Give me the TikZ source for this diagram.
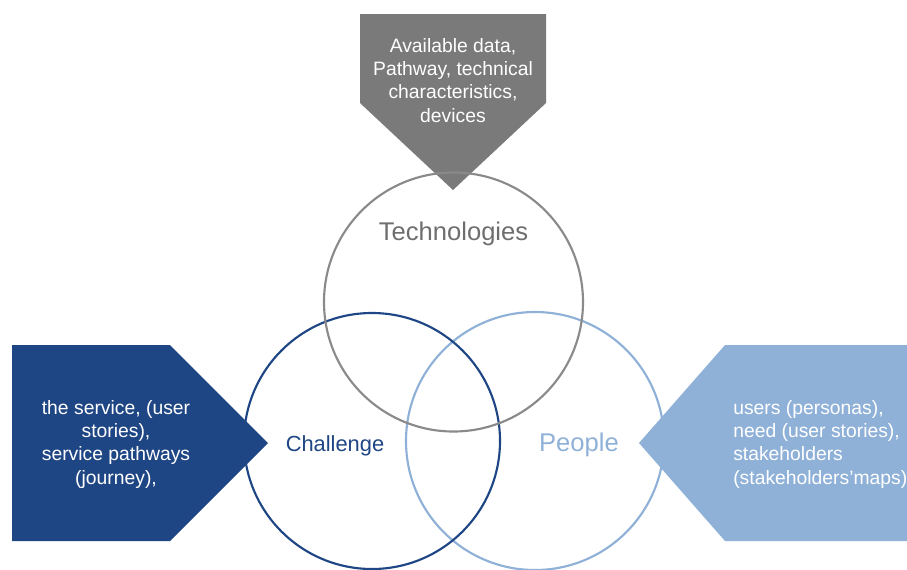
\documentclass[tikz,border=0pt]{standalone}
\usepackage{fontspec}
\setmainfont{Liberation Sans}
\definecolor{techgray}{HTML}{7A7A7A}
\definecolor{ringgray}{HTML}{8A8A8A}
\definecolor{navy}{HTML}{1F4684}
\definecolor{sky}{HTML}{8FB1D8}
\begin{document}
\begin{tikzpicture}[x=0.75pt,y=-0.75pt,
  ring/.style={line width=1.6pt},
  tagtext/.style={text=white,font=\fontsize{14.5}{17.3}\selectfont},
  ringlabel/.style={inner sep=0pt,anchor=base}]
\useasboundingbox (0,0) rectangle (907,569);
\begin{scope}
\clip (0,0) rectangle (907,569);
% arrow-shaped tags
\fill[techgray] (360,14) -- (546,14) -- (546,103) -- (453,190) -- (360,103) -- cycle;
\fill[navy] (12,345) -- (170,345) -- (268,443) -- (170,541) -- (12,541) -- cycle;
\fill[sky] (915,345) -- (725,345) -- (639,443) -- (725,541) -- (915,541) -- cycle;
% rings
\draw[ring,sky] (535,441) circle[radius=129];
\draw[ring,navy] (372,441) circle[radius=128];
\draw[ring,ringgray] (453.5,302) circle[radius=129.5];
% tag texts (anchored on the baseline of their last line)
\node[tagtext,align=center,anchor=base] (techtag) at (453,122)
  {Available data,\\Pathway, technical\\characteristics,\\devices};
\node[tagtext,align=center,anchor=base] (chaltag) at (116,484)
  {the service, (user\\stories),\\service pathways\\(journey),};
\node[tagtext,align=left,anchor=base west,inner sep=0pt] (peoptag) at (733,484)
  {users (personas),\\need (user stories),\\stakeholders\\(stakeholders\char"0027 maps)};
\end{scope}
% ring labels
\node[ringlabel,text=techgray!90!black,font=\fontsize{19.2}{22}\selectfont] (tech) at (453.5,240) {Technologies};
\node[ringlabel,text=navy,font=\fontsize{16.4}{20}\selectfont] (chal) at (335,451) {Challenge};
\node[ringlabel,text=sky,font=\fontsize{19.2}{22}\selectfont] (peop) at (579,451) {People};
\end{tikzpicture}
\end{document}
